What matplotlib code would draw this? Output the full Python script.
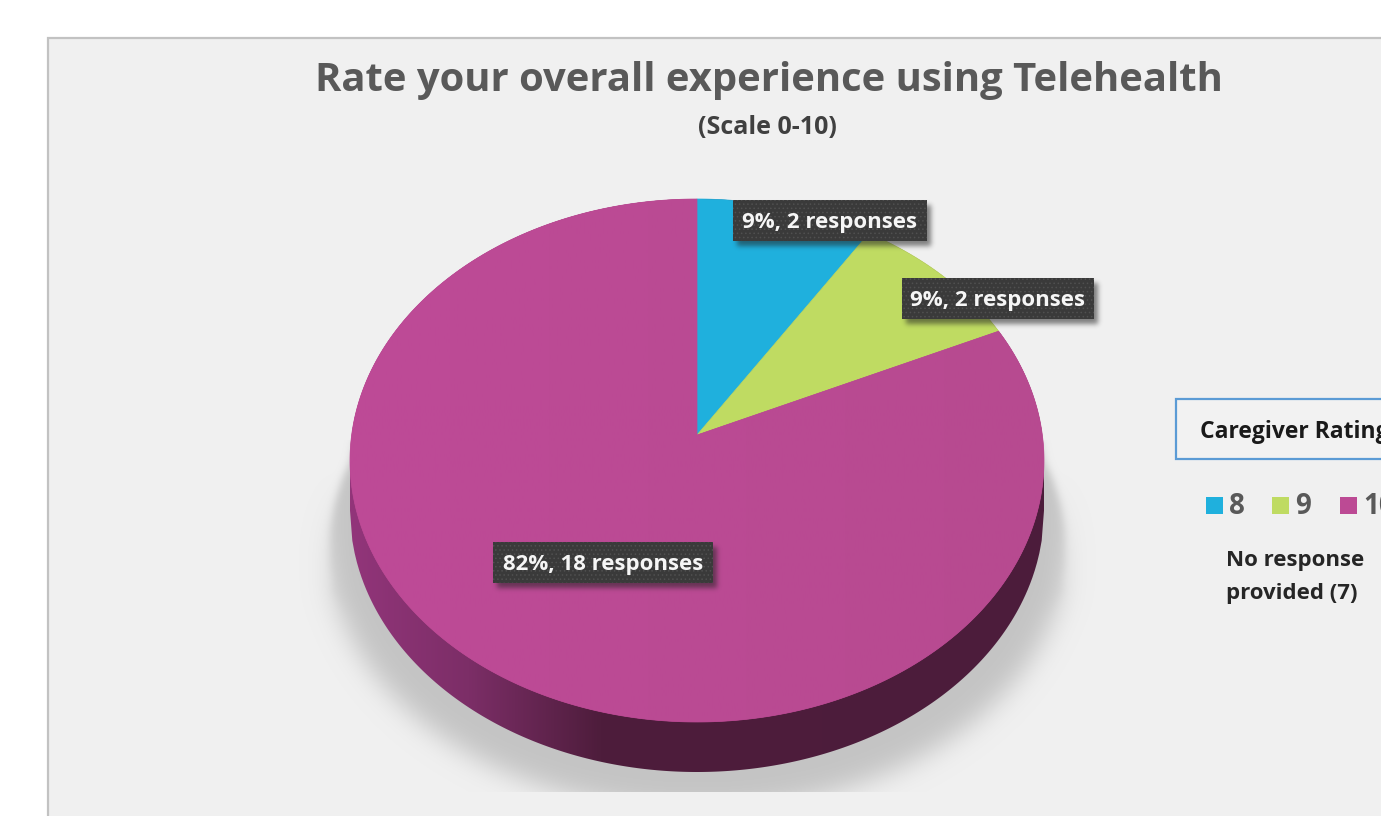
"""Telehealth rating pie, drawn as an extruded disc in pixel coordinates."""

import matplotlib

matplotlib.use("Agg")
import matplotlib.pyplot as plt
import numpy as np
from matplotlib.colors import LinearSegmentedColormap
from matplotlib.patches import Polygon, Rectangle

TITLE = "Rate your overall experience using Telehealth"
SUBTITLE = "(Scale 0-10)"
LEGEND_TITLE = "Caregiver Rating"
NOTE = "No response\nprovided (7)"

ratings = ["8", "9", "10"]
responses = [2, 2, 18]
slice_colors = ["#1FB0DD", "#BFDB62", "#BC4A94"]

W, H = 1381, 816
CX, CY, RX, RY = 697, 460.5, 347, 261.5
APEX_Y = 435
DEPTH = 50

plt.rcParams["font.family"] = ["Open Sans", "DejaVu Sans"]
plt.rcParams["hatch.linewidth"] = 0.6


def blur(img, sigma):
    # separable gaussian, enough for soft shadows
    r = int(3 * sigma)
    k = np.exp(-0.5 * (np.arange(-r, r + 1) / sigma) ** 2)
    k /= k.sum()
    img = np.apply_along_axis(lambda v: np.convolve(v, k, mode="same"), 0, img)
    return np.apply_along_axis(lambda v: np.convolve(v, k, mode="same"), 1, img)


def overlay(ax, alpha, color, zorder):
    rgba = np.zeros((H, W, 4))
    rgba[..., :3] = matplotlib.colors.to_rgb(color)
    rgba[..., 3] = alpha
    ax.imshow(rgba, extent=(0, W, H, 0), aspect="auto", zorder=zorder, interpolation="bilinear")


def rim_point(theta):
    # ray from the off-centre apex to the rim of the tilted disc
    dx, dy = np.sin(theta), -np.cos(theta) * RY / RX
    ox, oy = 0.0, (APEX_Y - CY) / RY
    ux, uy = dx / RX, dy / RY
    a = ux * ux + uy * uy
    b = 2 * (ox * ux + oy * uy)
    c = ox * ox + oy * oy - 1
    t = (-b + np.sqrt(b * b - 4 * a * c)) / (2 * a)
    return CX + t * dx, APEX_Y + t * dy


def sector(start, end):
    thetas = np.linspace(start, end, max(3, int((end - start) * 120)))
    return [(CX, APEX_Y)] + [rim_point(th) for th in thetas]


fig = plt.figure(figsize=(W / 100, H / 100), dpi=100, facecolor="white")
ax = fig.add_axes([0, 0, 1, 1])
ax.set_xlim(0, W)
ax.set_ylim(H, 0)
ax.axis("off")

# panel
ax.add_patch(Rectangle((48, 38), W, H, facecolor="#F0F0F0", edgecolor="#C2C2C2", linewidth=1.6, zorder=0))

# ground shadow: crisp along the flanks, softer lower down, cut off flat at the bottom
yy, xx = np.mgrid[0:H, 0:W]
ground = ((xx - CX) / 368) ** 2 + ((yy - 548) / 262) ** 2 <= 1
half_width = np.interp(yy, [440, 500, 590, 640], [343, 354, 366, 345])
ground |= (np.abs(xx - CX) <= half_width) & (yy >= 440) & (yy <= 640)
soft_weight = np.clip((yy - 470) / 150, 0, 1)
shadow = (1 - soft_weight) * blur(ground.astype(float), 4) + soft_weight * blur(ground.astype(float), 13)
shadow[yy >= 792] = 0
shadow[yy < 440] = 0
overlay(ax, shadow, "#C4C4C4", 1)

# side wall with a left-to-right shade
side_cmap = LinearSegmentedColormap.from_list(
    "side", [(0, "#92357A"), (0.17, "#7C2E67"), (0.36, "#4E1D3C"), (1, "#4C1C3B")]
)
side_x = np.linspace(CX - RX, CX + RX, 300)
half_arc = RY * np.sqrt(np.clip(1 - ((side_x - CX) / RX) ** 2, 0, 1))
side_pts = list(zip(side_x, CY + half_arc + DEPTH)) + list(zip(side_x[::-1], CY - half_arc[::-1]))
side_patch = Polygon(side_pts, closed=True, facecolor="none", edgecolor="none", zorder=2)
ax.add_patch(side_patch)
side_img = ax.imshow(
    np.linspace(0, 1, 256)[None, :],
    extent=(CX - RX, CX + RX, H, 0),
    aspect="auto",
    cmap=side_cmap,
    zorder=2,
)
side_img.set_clip_path(side_patch)

# top face, clockwise from twelve o'clock
edges = np.cumsum([0] + responses) / sum(responses) * 2 * np.pi
for i, color in enumerate(slice_colors):
    ax.add_patch(
        Polygon(sector(edges[i], edges[i + 1]), closed=True, facecolor=color, edgecolor=color, linewidth=0.5, zorder=3)
    )

# faint sheen across the largest slice
sheen_cmap = LinearSegmentedColormap.from_list("sheen", ["#BE4A97", "#B74A90"])
sheen_patch = Polygon(sector(edges[2], edges[3]), closed=True, facecolor="none", edgecolor="none", zorder=3.1)
ax.add_patch(sheen_patch)
sheen = ax.imshow(
    np.linspace(0, 1, 256)[None, :],
    extent=(CX - RX, CX + RX, H, 0),
    aspect="auto",
    cmap=sheen_cmap,
    zorder=3.1,
)
sheen.set_clip_path(sheen_patch)
ax.set_xlim(0, W)
ax.set_ylim(H, 0)

# value labels
total = sum(responses)
label_boxes = [(733, 200, 194, 41), (902, 278, 192, 41), (493, 542, 220, 41)]
for value, (x, y, w, h) in zip(responses, label_boxes):
    box_shadow = np.zeros((H, W))
    box_shadow[y + 5 : y + h + 5, x + 4 : x + w + 4] = 1
    overlay(ax, blur(box_shadow, 2.5) * 0.55, "#222222", 4)
    ax.add_patch(Rectangle((x, y), w, h, facecolor="#3A3A3A", edgecolor="#505050", linewidth=0, hatch="....", zorder=5))
    ax.text(
        x + w / 2,
        y + h / 2 + 2,
        f"{round(100 * value / total)}%, {value} responses",
        color="#F6F6F6",
        fontsize=16,
        fontweight="bold",
        ha="center",
        va="center",
        zorder=6,
    )

ax.text(768.5, 80, TITLE, color="#595959", fontsize=28.8, fontweight="bold", ha="center", va="center")
ax.text(767.5, 127, SUBTITLE, color="#404040", fontsize=18, fontweight="bold", ha="center", va="center")

# legend block runs off the right edge
ax.add_patch(Rectangle((1176, 399), 260, 60, facecolor="#F2F2F2", edgecolor="#5B9BD5", linewidth=1.6, zorder=3))
ax.text(1200, 432, LEGEND_TITLE, color="#1A1A1A", fontsize=16.5, fontweight="bold", va="center", zorder=4)
for rating, color, sx in zip(ratings, slice_colors, [1206, 1272, 1340]):
    ax.add_patch(Rectangle((sx, 497), 17, 17, facecolor=color, edgecolor="none", zorder=4))
    ax.text(sx + 23, 507, rating, color="#595959", fontsize=20, fontweight="bold", va="center", zorder=4)
ax.text(1226, 577, NOTE, color="#262626", fontsize=16, fontweight="bold", va="center", linespacing=1.75, zorder=4)

fig.savefig("out.png", dpi=100)
plt.close(fig)
